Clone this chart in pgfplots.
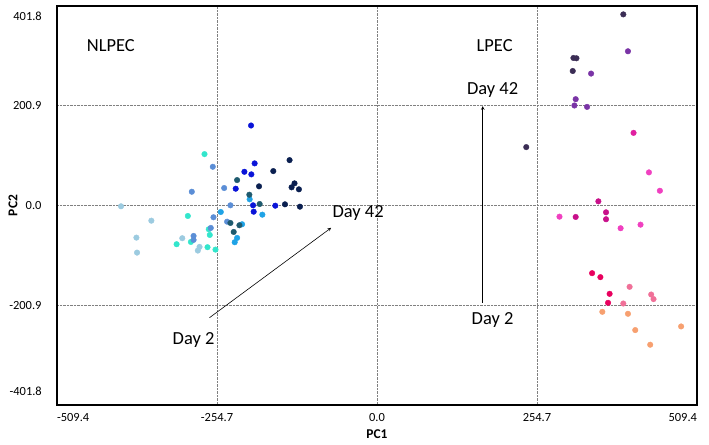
\documentclass[border=0pt]{standalone}
\usepackage{pgfplots}
\pgfplotsset{compat=1.18}
\usepackage{fontspec}
\setmainfont{Carlito}
\definecolor{cLB}{HTML}{9CCBE0}
\definecolor{cTQ}{HTML}{33E6CC}
\definecolor{cCF}{HTML}{5B8ED6}
\definecolor{cDS}{HTML}{1FA3E6}
\definecolor{cDT}{HTML}{1E5A6E}
\definecolor{cBL}{HTML}{0A14D8}
\definecolor{cNV}{HTML}{0A1F50}
\definecolor{cDK}{HTML}{3B2D55}
\definecolor{cPU}{HTML}{7A34A6}
\definecolor{cMG}{HTML}{E020A0}
\definecolor{cPK}{HTML}{F040C0}
\definecolor{cDM}{HTML}{C8108A}
\definecolor{cCR}{HTML}{E8005E}
\definecolor{cLC}{HTML}{F07098}
\definecolor{cOR}{HTML}{F7A070}
\begin{document}
\begin{tikzpicture}
\useasboundingbox (-57bp,-40bp) rectangle (652bp,405bp);
\begin{axis}[
  at={(0,0)}, anchor=south west,
  width=640bp, height=399bp, scale only axis,
  xmin=-509.4, xmax=509.4, ymin=-401.8, ymax=401.8,
  xtick={-509.4,-254.7,0,254.7,509.4},
  xticklabels={\makebox[0pt][l]{-509.4},-254.7,0.0,254.7,\makebox[0pt][r]{509.4}},
  ytick={-401.8,-200.9,0,200.9,401.8},
  yticklabels={,-200.9,0.0,200.9,},
  major tick length=0pt,
  tick label style={font=\fontsize{12.5}{14}\selectfont},
  yticklabel style={xshift=-12bp},
  xticklabel style={yshift=-5bp},
  /pgf/number format/assume math mode=true,
  grid=major,
  major grid style={densely dotted, gray, line width=0.6pt},
  axis line style={line width=1.5bp, black},
  xlabel={\textbf{PC1}}, ylabel={\textbf{PC2}},
  label style={font=\fontsize{13.5}{15}\selectfont},
  xlabel style={yshift=-1bp},
  ylabel style={yshift=-15bp},
  every axis plot/.append style={only marks, mark=*, mark size=2.8pt},
  clip=false,
]
% NLPEC
\addplot[cLB, mark options={draw=cLB, fill=cLB}] coordinates {(-407.5,-1.6)(-359.2,-30.6)(-383,-64.7)(-310,-65.9)(-282.5,-83.4)(-285.2,-90.8)(-382,-94.9)};
\addplot[cTQ, mark options={draw=cTQ, fill=cTQ}] coordinates {(-274.6,103.5)(-301.1,-21.1)(-267.8,-47.8)(-266.2,-59.3)(-296.3,-73.4)(-319,-78)(-269.8,-84)(-257.1,-88.8)};
\addplot[cCF, mark options={draw=cCF, fill=cCF}] coordinates {(-261.4,78.0)(-294.8,27.7)(-243.3,35.2)(-233.3,0.4)(-260.3,-23.7)(-238.6,-32.6)(-264.6,-45.2)(-292,-61.3)(-292,-69.3)};
\addplot[cDS, mark options={draw=cDS, fill=cDS}] coordinates {(-202.7,12.5)(-248.7,-13.1)(-182.5,-18.5)(-214.8,-37.8)(-222.7,-65.3)(-226.5,-74)};
\addplot[cDT, mark options={draw=cDT, fill=cDT}] coordinates {(-222.7,51.2)(-203.2,21.7)(-186.8,3.0)(-233.3,-35.2)(-219,-39.8)(-228.1,-53.3)};
\addplot[cBL, mark options={draw=cBL, fill=cBL}] coordinates {(-200.5,161.1)(-194.8,84.8)(-211.1,67.9)(-200,62.7)(-224.9,33.8)(-197.3,0.4)(-161.9,-0.4)(-196.3,-12.5)};
\addplot[cNV, mark options={draw=cNV, fill=cNV}] coordinates {(-139.2,91.4)(-165.1,69.3)(-187.8,38.6)(-131.3,44.6)(-136,36.6)(-124.3,32.6)(-146.5,2.4)(-122.7,-2.4)};
% LPEC
\addplot[cDK, mark options={draw=cDK, fill=cDK}] coordinates {(392.1,384.9)(312.7,297.1)(317.5,296.5)(311.6,270.9)(237.6,117.6)};
\addplot[cPU, mark options={draw=cPU, fill=cPU}] coordinates {(399.5,310.6)(340.8,265.7)(316.3,214.1)(314.3,201.4)(334.4,198.6)};
\addplot[cMG, mark options={draw=cMG, fill=cMG}] coordinates {(408.4,146.3)};
\addplot[cPK, mark options={draw=cPK, fill=cPK}] coordinates {(432.9,66.7)(450.3,29.7)(290.5,-22.5)(387.8,-45.8)(419.5,-38.6)};
\addplot[cDM, mark options={draw=cDM, fill=cDM}] coordinates {(352.4,8.4)(364.6,-13.7)(364.6,-27.7)(316.3,-23.1)};
\addplot[cCR, mark options={draw=cCR, fill=cCR}] coordinates {(342.4,-136.3)(355.6,-144.3)(370.3,-177.9)(367.8,-196)};
\addplot[cLC, mark options={draw=cLC, fill=cLC}] coordinates {(402.1,-163.8)(436.5,-179.3)(440.2,-188.5)(392.1,-197.4)};
\addplot[cOR, mark options={draw=cOR, fill=cOR}] coordinates {(358.7,-214.1)(399.5,-218.1)(484.1,-243.6)(411.1,-250.9)(434.9,-280.4)};
% edge tick labels of the y axis
\node[anchor=east, font=\fontsize{12.5}{14}\selectfont, inner sep=0pt] at ([xshift=-15bp]axis cs:-509.4,380.7) {401.8};
\node[anchor=east, font=\fontsize{12.5}{14}\selectfont, inner sep=0pt] at ([xshift=-15bp]axis cs:-509.4,-374) {-401.8};
% annotations
\node[font=\fontsize{18.5}{20}\selectfont] at (axis cs:-423.8,322.6) {NLPEC};
\node[font=\fontsize{18.5}{20}\selectfont] at (axis cs:187.3,322.6) {LPEC};
\draw[-stealth, line width=0.6pt] (axis cs:168.3,-196) -- (axis cs:168.3,200);
\node[font=\fontsize{18.5}{20}\selectfont] at (axis cs:184,232) {Day 42};
\node[font=\fontsize{18.5}{20}\selectfont] at (axis cs:184,-230) {Day 2};
\draw[-stealth, line width=0.6pt] (axis cs:-266.7,-226) -- (axis cs:-73,-45);
\node[font=\fontsize{18.5}{20}\selectfont] at (axis cs:-30,-15) {Day 42};
\node[font=\fontsize{18.5}{20}\selectfont] at (axis cs:-292,-270) {Day 2};
\end{axis}
\end{tikzpicture}
\end{document}
